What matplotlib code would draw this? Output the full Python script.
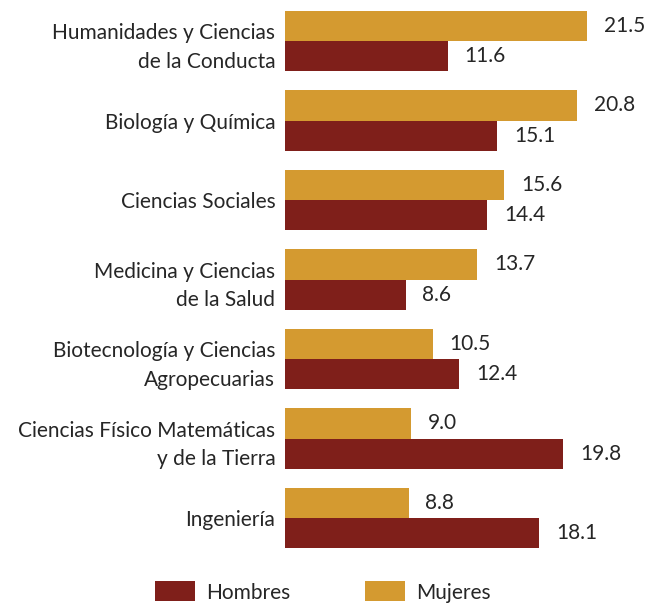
import numpy as np
import matplotlib
matplotlib.use("Agg")
import matplotlib.pyplot as plt

categories = ["Humanidades y Ciencias\nde la Conducta", "Biología y Química", "Ciencias Sociales",
              "Medicina y Ciencias\nde la Salud", "Biotecnología y Ciencias\nAgropecuarias",
              "Ciencias Físico Matemáticas\ny de la Tierra", "Ingeniería"]
mujeres = [21.5, 20.8, 15.6, 13.7, 10.5, 9.0, 8.8]
hombres = [11.6, 15.1, 14.4, 8.6, 12.4, 19.8, 18.1]

gold = "#D49A30"
red = "#7F1F1A"
txt = "#262626"
plt.rcParams['font.family'] = ['Lato', 'DejaVu Sans']

fig = plt.figure(figsize=(6.48, 6.06), dpi=100)
ax = fig.add_axes([285 / 648, 46 / 606, 1 - 285 / 648, 560 / 606])

y = np.arange(len(categories))
h = 0.38
b1 = ax.barh(y - h / 2, mujeres, height=h, color=gold, label="Mujeres")
b2 = ax.barh(y + h / 2, hombres, height=h, color=red, label="Hombres")

for bars, vals in [(b1, mujeres), (b2, hombres)]:
    for bar, v in zip(bars, vals):
        ax.annotate(f"{v:.1f}", (v, bar.get_y() + bar.get_height() / 2),
                    xytext=(12, 0), textcoords="offset points", va="center", ha="left",
                    fontsize=15, color=txt)

ax.set_xlim(0, 363 / 14.05)
ax.set_ylim(6.528, -0.516)
ax.set_yticks(y)
ax.set_yticklabels(categories, fontsize=15, color=txt, linespacing=1.55)
ax.tick_params(axis='y', length=0, pad=7)
ax.set_xticks([])
for s in ax.spines.values():
    s.set_visible(False)

fig.legend([b2, b1], ["Hombres", "Mujeres"], loc="center", bbox_to_anchor=(323 / 648, 14 / 606),
           ncol=2, frameon=False, fontsize=15, handlelength=1.9, handleheight=1.1,
           handletextpad=0.55, columnspacing=3.6, labelcolor=txt)

fig.savefig("out.png", dpi=100)
